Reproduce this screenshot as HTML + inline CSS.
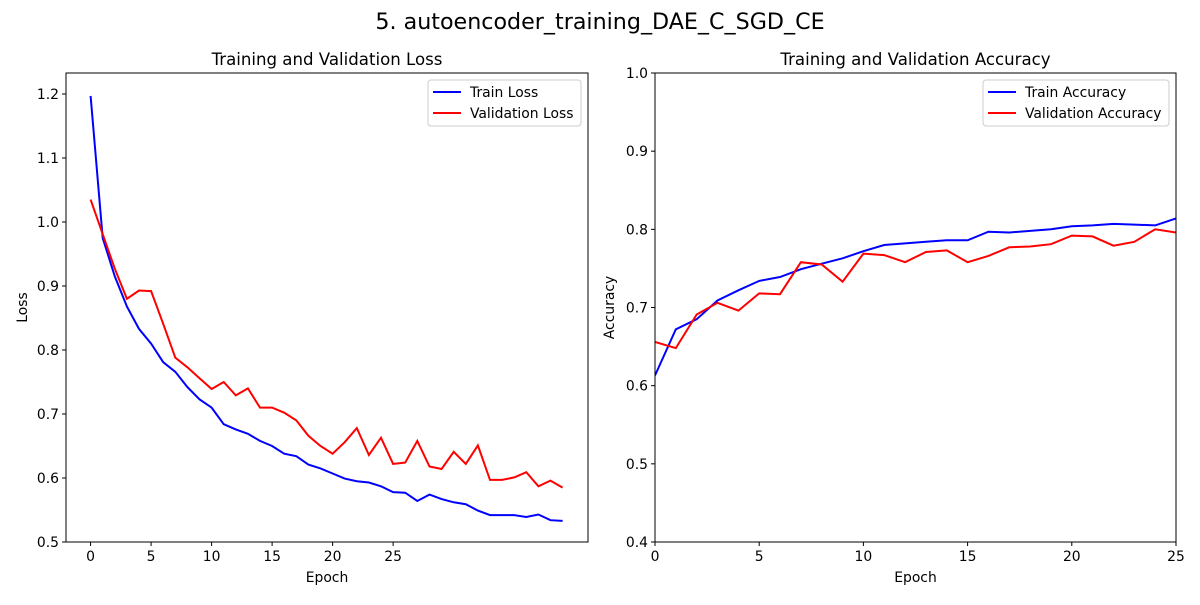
<!DOCTYPE html>
<html><head><meta charset="utf-8"><style>
body{margin:0;background:#fff;font-family:"Liberation Sans","DejaVu Sans",sans-serif}
svg text{font-family:"DejaVu Sans","Liberation Sans",sans-serif;fill:#000}
</style></head><body>
<svg id="c" width="1200" height="600">
<text x="600" y="29" font-size="22.2" text-anchor="middle">5. autoencoder_training_DAE_C_SGD_CE</text>
</svg>
<script>
const lossEpochs=[0,1,2,3,4,5,6,7,8,9,10,11,12,13,14,15,16,17,18,19,20,21,22,23,24,25,26,27,28,29,30,31,32,33,34,35,36,37,38,39];
const trainLoss=[1.197,0.975,0.915,0.868,0.833,0.810,0.781,0.766,0.742,0.723,0.710,0.684,0.676,0.669,0.658,0.650,0.638,0.634,0.621,0.615,0.607,0.599,0.595,0.593,0.587,0.578,0.577,0.564,0.574,0.567,0.562,0.559,0.549,0.542,0.542,0.542,0.539,0.543,0.534,0.533];
const valLoss=[1.035,0.981,0.927,0.880,0.893,0.892,0.841,0.788,0.773,0.756,0.739,0.750,0.729,0.740,0.710,0.710,0.702,0.690,0.666,0.650,0.638,0.656,0.678,0.636,0.663,0.622,0.624,0.658,0.618,0.614,0.641,0.622,0.651,0.597,0.597,0.601,0.609,0.587,0.596,0.585];
const accEpochs=[0,1,2,3,4,5,6,7,8,9,10,11,12,13,14,15,16,17,18,19,20,21,22,23,24,25];
const trainAcc=[0.613,0.672,0.685,0.709,0.722,0.734,0.739,0.749,0.756,0.763,0.772,0.780,0.782,0.784,0.786,0.786,0.797,0.796,0.798,0.800,0.804,0.805,0.807,0.806,0.805,0.814];
const valAcc=[0.656,0.648,0.691,0.706,0.696,0.718,0.717,0.758,0.755,0.733,0.769,0.767,0.758,0.771,0.773,0.758,0.766,0.777,0.778,0.781,0.792,0.791,0.779,0.784,0.800,0.796];
const xTicks=[0,5,10,15,20,25];
const lossYTicks=[0.5,0.6,0.7,0.8,0.9,1.0,1.1,1.2];
const accYTicks=[0.4,0.5,0.6,0.7,0.8,0.9,1.0];

const svg=document.getElementById('c');
const NS='http://www.w3.org/2000/svg';
function mk(tag,attrs,parent){const e=document.createElementNS(NS,tag);for(const k in attrs)e.setAttribute(k,attrs[k]);(parent||svg).appendChild(e);return e;}

function panel(o){
  const g=mk('g',{});
  
  
  const sx=v=>o.x0+(v-o.xmin)/(o.xmax-o.xmin)*(o.x1-o.x0);
  const sy=v=>o.y1-(v-o.ymin)/(o.ymax-o.ymin)*(o.y1-o.y0);
  const clipId=o.name+'-clip';
  const cp=mk('clipPath',{id:clipId},g);
  mk('rect',{x:o.x0,y:o.y0,width:o.x1-o.x0,height:o.y1-o.y0},cp);
  o.series.forEach(s=>{
    const d=s.ys.map((v,i)=>(i?'L':'M')+sx(s.xs[i]).toFixed(1)+' '+sy(v).toFixed(1)).join(' ');
    const p=mk('path',{d:d,fill:'none',stroke:s.color,'stroke-width':2,'clip-path':'url(#'+clipId+')'},g);
    
    
  });
  const fr=mk('rect',{x:o.x0,y:o.y0,width:o.x1-o.x0,height:o.y1-o.y0,fill:'none',stroke:'#000','stroke-width':1},g);
  
  
  xTicks.forEach(t=>{
    const x=sx(t);
    mk('line',{x1:x,x2:x,y1:o.y1,y2:o.y1+4,stroke:'#000'},g);
    const tx=mk('text',{x:x,y:o.y1+19,'font-size':13.9,'text-anchor':'middle'},g);tx.textContent=t;
    
    
  });
  o.yTicks.forEach(t=>{
    const y=sy(t);
    mk('line',{x1:o.x0-4,x2:o.x0,y1:y,y2:y,stroke:'#000'},g);
    const tx=mk('text',{x:o.x0-7,y:y+5,'font-size':13.9,'text-anchor':'end'},g);tx.textContent=t.toFixed(1);
    
    
  });
  const ti=mk('text',{x:(o.x0+o.x1)/2,y:o.y0-8,'font-size':16.6,'text-anchor':'middle'},g);ti.textContent=o.title;
  
  
  const xl=mk('text',{x:(o.x0+o.x1)/2,y:o.y1+40,'font-size':13.9,'text-anchor':'middle'},g);xl.textContent='Epoch';
  
  
  const yl=mk('text',{x:0,y:0,'font-size':13.9,'text-anchor':'middle',transform:'translate('+o.ylx+','+((o.y0+o.y1)/2)+') rotate(-90)'},g);yl.textContent=o.ylabel;
  
  
  const lg=mk('g',{},g);
  
  
  mk('rect',{x:o.lx,y:o.y0+7,width:o.lw,height:46,rx:3,fill:'#fff',stroke:'#ccc'},lg);
  o.series.forEach((s,i)=>{
    const y=o.y0+19+i*21;
    mk('line',{x1:o.lx+5,x2:o.lx+33,y1:y,y2:y,stroke:s.color,'stroke-width':2},lg);
    const t=mk('text',{x:o.lx+42,y:y+5,'font-size':13.9},lg);t.textContent=s.label;
    
    
  });
}
panel({name:'loss-chart',x0:66,x1:588,y0:73,y1:542,xmin:-2.03,xmax:41.1,ymin:0.5,ymax:1.2328,
  yTicks:lossYTicks,title:'Training and Validation Loss',ylabel:'Loss',ylx:27,lx:428,lw:153,
  series:[{key:'train-loss',xs:lossEpochs,ys:trainLoss,color:'#0000ff',label:'Train Loss'},
          {key:'validation-loss',xs:lossEpochs,ys:valLoss,color:'#ff0000',label:'Validation Loss'}]});
panel({name:'accuracy-chart',x0:655,x1:1176,y0:73,y1:542,xmin:0,xmax:25,ymin:0.4,ymax:1.0,
  yTicks:accYTicks,title:'Training and Validation Accuracy',ylabel:'Accuracy',ylx:614,lx:983,lw:186,
  series:[{key:'train-accuracy',xs:accEpochs,ys:trainAcc,color:'#0000ff',label:'Train Accuracy'},
          {key:'validation-accuracy',xs:accEpochs,ys:valAcc,color:'#ff0000',label:'Validation Accuracy'}]});
</script>
</body></html>
